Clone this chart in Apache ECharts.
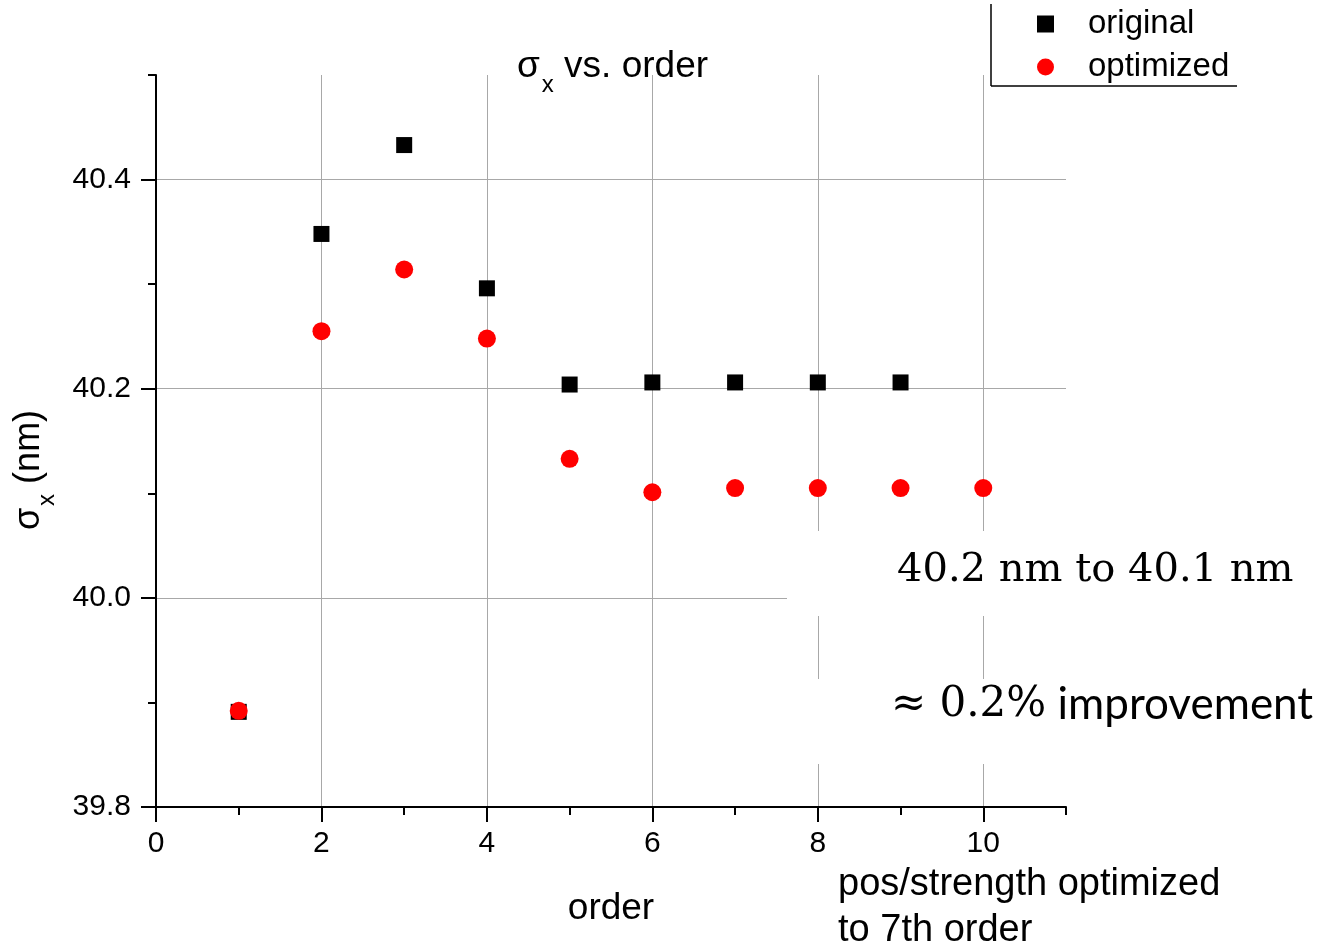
<!DOCTYPE html>
<html>
<head>
<meta charset="utf-8">
<script src="https://cdn.jsdelivr.net/npm/echarts@6/dist/echarts.min.js"></script>
<style>
html,body{margin:0;padding:0;background:#fff;}
#c{width:1326px;height:947px;}
</style>
</head>
<body>
<div id="c"></div>
<script>
// ---- data ----
const orders = [1, 2, 3, 4, 5, 6, 7, 8, 9, 10];
const originalSigma = [39.891, 40.348, 40.433, 40.296, 40.204, 40.206, 40.206, 40.206, 40.206];
const optimizedSigma = [39.892, 40.255, 40.314, 40.248, 40.133, 40.101, 40.105, 40.105, 40.105, 40.105];
const xMajorTicks = [0, 2, 4, 6, 8, 10];
const xMinorTicks = [1, 3, 5, 7, 9, 11];
const yMajorTicks = [39.8, 40.0, 40.2, 40.4];
const yMinorTicks = [39.9, 40.1, 40.3, 40.5];

const seriesNames = ['original', 'optimized'];

const FONT = '"Liberation Sans", Arial, sans-serif';
const chart = echarts.init(document.getElementById('c'), null, {renderer: 'canvas'});

const origData = originalSigma.map((v, i) => [orders[i], v]);
const optData = optimizedSigma.map((v, i) => [orders[i], v]);

const option = {
  backgroundColor: '#ffffff',
  animation: false,
  title: {
    text: '{a|σ}{b|x}{a| vs. order}',
    left: 512,
    top: 43,
    textStyle: {
      fontWeight: 'normal',
      rich: {
        a: {fontFamily: FONT, fontSize: 37, fontWeight: 'normal', color: '#000', lineHeight: 38, verticalAlign: 'top'},
        b: {fontFamily: FONT, fontSize: 24, fontWeight: 'normal', color: '#000', lineHeight: 24, padding: [25, 0, 0, 2], verticalAlign: 'top'}
      }
    }
  },
  legend: {
    orient: 'vertical',
    left: 1032,
    top: 1,
    itemWidth: 17,
    itemHeight: 17,
    itemGap: 7,
    data: [
      {name: seriesNames[0], icon: 'rect'},
      {name: seriesNames[1], icon: 'circle'}
    ],
    textStyle: {fontFamily: FONT, fontSize: 33, color: '#000', lineHeight: 36, padding: [0, 0, 0, 29]}
  },
  grid: {left: 156, right: 260, top: 75, bottom: 140, containLabel: false},
  xAxis: [
    {
      type: 'value', min: 0, max: 11, interval: 2,
      name: 'order', nameLocation: 'middle', nameGap: 83,
      nameTextStyle: {fontFamily: FONT, fontSize: 37, color: '#000'},
      axisLine: {show: true, onZero: false, lineStyle: {color: '#000', width: 2}},
      axisTick: {show: true, inside: false, length: 15, customValues: xMajorTicks, lineStyle: {color: '#000', width: 2}},
      axisLabel: {customValues: xMajorTicks, fontFamily: FONT, fontSize: 30, color: '#000', margin: 22},
      splitLine: {show: true, showMinLine: false, showMaxLine: true, lineStyle: {color: '#a8a8a8', width: 1}},
      minorTick: {show: false}
    },
    {
      type: 'value', min: 0, max: 11, gridIndex: 0, position: 'bottom',
      axisLine: {show: false},
      axisTick: {show: true, inside: false, length: 8, customValues: xMinorTicks, lineStyle: {color: '#000', width: 2}},
      axisLabel: {show: false},
      splitLine: {show: false}
    }
  ],
  yAxis: [
    {
      type: 'value', min: 39.8, max: 40.5, interval: 0.2,
      name: '{a|σ}{b|x}{a| (nm)}', nameLocation: 'middle', nameGap: 107, nameRotate: 90,
      nameTextStyle: {
        padding: [0, 58, 0, 0],
        rich: {
          a: {fontFamily: FONT, fontSize: 36, color: '#000', lineHeight: 38, verticalAlign: 'top'},
          b: {fontFamily: FONT, fontSize: 24, color: '#000', lineHeight: 26, padding: [24, 0, 0, 2], verticalAlign: 'top'}
        }
      },
      axisLine: {show: true, onZero: false, lineStyle: {color: '#000', width: 2}},
      axisTick: {show: true, inside: false, length: 15, customValues: yMajorTicks, lineStyle: {color: '#000', width: 2}},
      axisLabel: {customValues: yMajorTicks, fontFamily: FONT, fontSize: 30, color: '#000', margin: 25,
        formatter: v => v.toFixed(1)},
      splitLine: {show: true, showMinLine: false, showMaxLine: true, lineStyle: {color: '#a8a8a8', width: 1}}
    },
    {
      type: 'value', min: 39.8, max: 40.5, gridIndex: 0, position: 'left',
      axisLine: {show: false},
      axisTick: {show: true, inside: false, length: 8, customValues: yMinorTicks, lineStyle: {color: '#000', width: 2}},
      axisLabel: {show: false},
      splitLine: {show: false}
    }
  ],
  series: [
    {
      name: seriesNames[0], type: 'scatter', xAxisIndex: 0, yAxisIndex: 0,
      symbol: 'rect', symbolSize: 16,
      itemStyle: {color: '#000', opacity: 1},
      data: origData, z: 3
    },
    {
      name: seriesNames[1], type: 'scatter', xAxisIndex: 0, yAxisIndex: 0,
      symbol: 'circle', symbolSize: 18,
      itemStyle: {color: '#ff0000', opacity: 1},
      data: optData, z: 4
    }
  ],
  graphic: [
    // legend frame (left and bottom edges)
    {type: 'line', z: 50, shape: {x1: 991, y1: 4, x2: 991, y2: 86}, style: {stroke: '#000', lineWidth: 1.5}},
    {type: 'line', z: 50, shape: {x1: 991, y1: 86, x2: 1237, y2: 86}, style: {stroke: '#000', lineWidth: 1.5}},
    // white annotation backgrounds
    {type: 'rect', z: 60, shape: {x: 787, y: 531, width: 539, height: 85}, style: {fill: '#fff'}},
    {type: 'rect', z: 60, shape: {x: 787, y: 679, width: 539, height: 85}, style: {fill: '#fff'}},
    {type: 'text', z: 61, left: 897, top: 551,
      style: {text: '40.2 nm to 40.1 nm', font: '40px "DejaVu Serif", serif', fill: '#000'}},
    {type: 'text', z: 61, left: 891, top: 683,
      style: {
        text: '{s|≈ 0.2%}{t| improvement}',
        rich: {
          s: {fontFamily: '"DejaVu Serif", serif', fontSize: 42, fill: '#000', lineHeight: 48},
          t: {fontFamily: 'Lato, "Open Sans", sans-serif', fontSize: 44, fill: '#000', lineHeight: 48}
        }
      }},
    // secondary caption under x axis
    {type: 'text', z: 61, left: 838, top: 862,
      style: {text: 'pos/strength optimized\nto 7th order', font: '38px "Liberation Sans", Arial, sans-serif', fill: '#000', lineHeight: 46}}
  ]
};
chart.setOption(option);
</script>
</body>
</html>
